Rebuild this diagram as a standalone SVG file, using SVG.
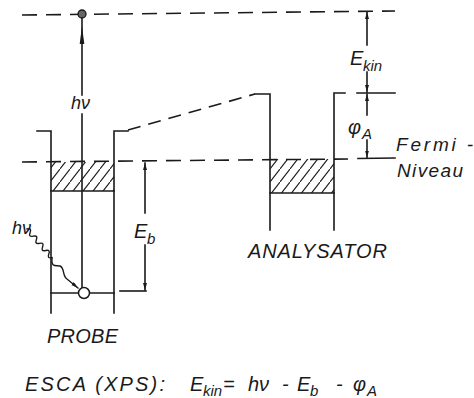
<svg xmlns="http://www.w3.org/2000/svg" width="474" height="398" viewBox="0 0 474 398">
<defs>
<style>
.ln{fill:none;stroke:#1a1a1a;stroke-width:1.6;stroke-linecap:square}
.ds{fill:none;stroke:#1a1a1a;stroke-width:1.6;stroke-dasharray:15 9}
.tx{font-family:"Liberation Sans",Arial,sans-serif;font-style:italic;fill:#1a1a1a}
.m{font-size:20px}
.s{font-size:15px}
</style>
<pattern id="hatch" patternUnits="userSpaceOnUse" width="10" height="13">
<path d="M0,13 L10,0" stroke="#1a1a1a" stroke-width="1.1" stroke-linecap="square"/>
</pattern>
<marker id="ah" markerUnits="userSpaceOnUse" markerWidth="8" markerHeight="6" refX="7" refY="2" orient="auto">
<path d="M0,0 L7,2 L0,4 z" fill="#1a1a1a"/>
</marker>
</defs>
<rect width="474" height="398" fill="#fff"/>

<g id="vacuum-level">
<line class="ds" x1="22" y1="15" x2="395" y2="11"/>
</g>
<g id="fermi-level">
<line class="ds" x1="22" y1="162" x2="348" y2="159"/>
<line class="ln" x1="358" y1="158.5" x2="395" y2="158"/>
</g>

<g id="probe">
<rect x="51" y="162" width="63" height="29" fill="url(#hatch)"/>
<path class="ln" d="M37,131 H51 V313"/>
<path class="ln" d="M128,131 H114 V313"/>
<line class="ln" x1="51" y1="191" x2="114" y2="191"/>
<line class="ln" x1="51" y1="293" x2="114" y2="293"/>
<line class="ln" x1="82" y1="114" x2="82" y2="288"/>
<circle cx="84" cy="293" r="5.5" fill="#fff" stroke="#1a1a1a" stroke-width="1.5"/>
</g>

<g id="analyzer">
<rect x="270" y="159" width="64" height="34" fill="url(#hatch)"/>
<path class="ln" d="M255,94 H270 V230"/>
<path class="ln" d="M334,230 V93 H345"/>
<line class="ln" x1="270" y1="193" x2="334" y2="193"/>
<line class="ln" x1="357" y1="93" x2="395" y2="93"/>
</g>

<g id="photoelectron">
<circle cx="82" cy="14" r="4" fill="#666" stroke="#1a1a1a" stroke-width="1.3"/>
</g>

<g id="connectors">
<line class="ln" x1="82" y1="18" x2="82" y2="95"/>
<path d="M82,26 L84.3,44 L79.7,44 z" fill="#1a1a1a"/>
<line class="ds" x1="128" y1="130" x2="255" y2="94" style="stroke-dasharray:13 8"/>
<g transform="translate(27,229) rotate(49)">
<path class="ln" d="M0,0 q2.4,-4.5 4.75,0 t4.75,0 t4.75,0 t4.75,0 t4.75,0 t4.75,0 t4.75,0 t4.75,0" style="stroke-width:1.4"/>
</g>
<path class="ln" style="stroke-width:1.4" d="M52,258 C51,268 56,265 60,266 C65,268 62,276 67,279 L78,288" marker-end="url(#ah)"/>
<line class="ln" x1="367" y1="45" x2="367" y2="12" marker-end="url(#ah)"/>
<line class="ln" x1="367" y1="72" x2="367" y2="92" marker-end="url(#ah)"/>
<line class="ln" x1="367" y1="115" x2="367" y2="94" marker-end="url(#ah)"/>
<line class="ln" x1="367" y1="140" x2="367" y2="157.5" marker-end="url(#ah)"/>
<line class="ln" x1="145" y1="213" x2="145" y2="163" marker-end="url(#ah)"/>
<line class="ln" x1="145" y1="245" x2="145" y2="290" marker-end="url(#ah)"/>
<line class="ln" x1="120" y1="291" x2="146" y2="291"/>
</g>

<g id="labels">
<text class="tx" x="71" y="109" style="font-size:18px">hν</text>
<text class="tx m" x="350" y="65">E</text><text class="tx s" x="363" y="71">kin</text>
<text class="tx m" x="348" y="134">φ</text><text class="tx s" x="362" y="139">A</text>
<text class="tx" x="396" y="151" style="font-size:19px" textLength="77" lengthAdjust="spacing">Fermi -</text>
<text class="tx" x="397" y="177" style="font-size:19px" textLength="66" lengthAdjust="spacing">Niveau</text>
<text class="tx m" x="134" y="238">E</text><text class="tx s" x="147" y="244">b</text>
<text class="tx" x="12" y="234" style="font-size:18px">hν</text>
<text class="tx m" x="248" y="258" textLength="139" lengthAdjust="spacing">ANALYSATOR</text>
<text class="tx m" x="47" y="343" textLength="71" lengthAdjust="spacing">PROBE</text>
<text class="tx" x="25" y="391" style="font-size:20px" textLength="140" lengthAdjust="spacing">ESCA (XPS):</text>
<text class="tx m" x="190" y="391">E</text><text class="tx s" x="203" y="396">kin</text><text class="tx m" x="223" y="391">=</text>
<text class="tx m" x="248" y="391">hν</text>
<text class="tx m" x="282" y="391">-</text>
<text class="tx m" x="297" y="391">E</text><text class="tx s" x="310" y="396">b</text>
<text class="tx m" x="336" y="391">-</text>
<text class="tx m" x="353" y="391">φ</text><text class="tx s" x="367" y="396">A</text>
</g>
</svg>
